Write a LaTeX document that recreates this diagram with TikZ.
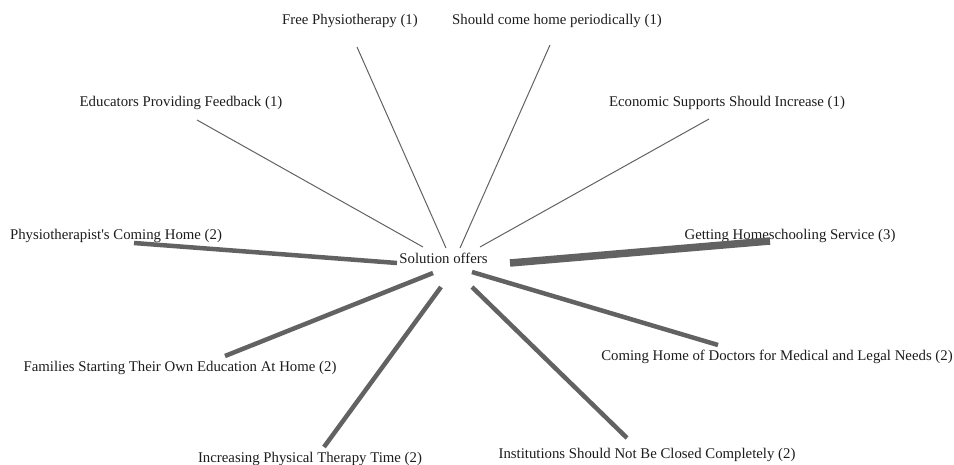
\documentclass[tikz,border=0pt]{standalone}
\usepackage{fontspec}
\setmainfont{Liberation Serif}
\usepackage{xcolor}
\usetikzlibrary{positioning}
\definecolor{edgegray}{RGB}{98,98,98}
\definecolor{wordgray}{RGB}{28,28,28}

\begin{document}
\begin{tikzpicture}[x=1pt,y=-1pt,
        word/.style={anchor=base,inner sep=0pt,text=wordgray,font=\fontsize{14.8}{17}\selectfont},
        one/.style={draw=edgegray,line width=1pt},
        two/.style={draw=edgegray,line width=4.5pt},
        three/.style={draw=edgegray,line width=7.5pt}]
        \useasboundingbox (0,0) rectangle (954,465);
        % labels
        \node[word] (sol) at (443.5,264) {Solution offers};
        \node[word] (free) at (350,25) {Free Physiotherapy (1)};
        \node[word] (period) at (557,25) {Should come home periodically (1)};
        \node[word] (educ) at (181,107) {Educators Providing Feedback (1)};
        \node[word] (econ) at (727,107) {Economic Supports Should Increase (1)};
        \node[word] (physio) at (116,240) {Physiotherapist\textquotesingle s Coming Home (2)};
        \node[word] (homesch) at (790,240) {Getting Homeschooling Service (3)};
        \node[word] (family) at (180,371) {Families Starting Their Own Education At Home (2)};
        \node[word] (doctors) at (777,360) {Coming Home of Doctors for Medical and Legal Needs (2)};
        \node[word] (therapy) at (310,462.5) {Increasing Physical Therapy Time (2)};
        \node[word] (instit) at (647,458) {Institutions Should Not Be Closed Completely (2)};
        % line ends
        \coordinate (free-o) at (357,47);    \coordinate (free-i) at (446,248);
        \coordinate (period-o) at (550,45);  \coordinate (period-i) at (460,248);
        \coordinate (educ-o) at (197,120);   \coordinate (educ-i) at (423,247);
        \coordinate (econ-o) at (709,119);   \coordinate (econ-i) at (480,247);
        \coordinate (physio-o) at (134,243); \coordinate (physio-i) at (397,263);
        \coordinate (homesch-o) at (770,241); \coordinate (homesch-i) at (510,263);
        \coordinate (family-o) at (225,356); \coordinate (family-i) at (433,273);
        \coordinate (doctors-o) at (718,345); \coordinate (doctors-i) at (472,272);
        \coordinate (therapy-o) at (324,447); \coordinate (therapy-i) at (441,287);
        \coordinate (instit-o) at (627,438); \coordinate (instit-i) at (472,287);
        \path   (free-o) edge[one] (free-i)
                (period-o) edge[one] (period-i)
                (educ-o) edge[one] (educ-i)
                (econ-o) edge[one] (econ-i)
                (physio-o) edge[two] (physio-i)
                (homesch-o) edge[three] (homesch-i)
                (family-o) edge[two] (family-i)
                (doctors-o) edge[two] (doctors-i)
                (therapy-o) edge[two] (therapy-i)
                (instit-o) edge[two] (instit-i);
\end{tikzpicture}
\end{document}
